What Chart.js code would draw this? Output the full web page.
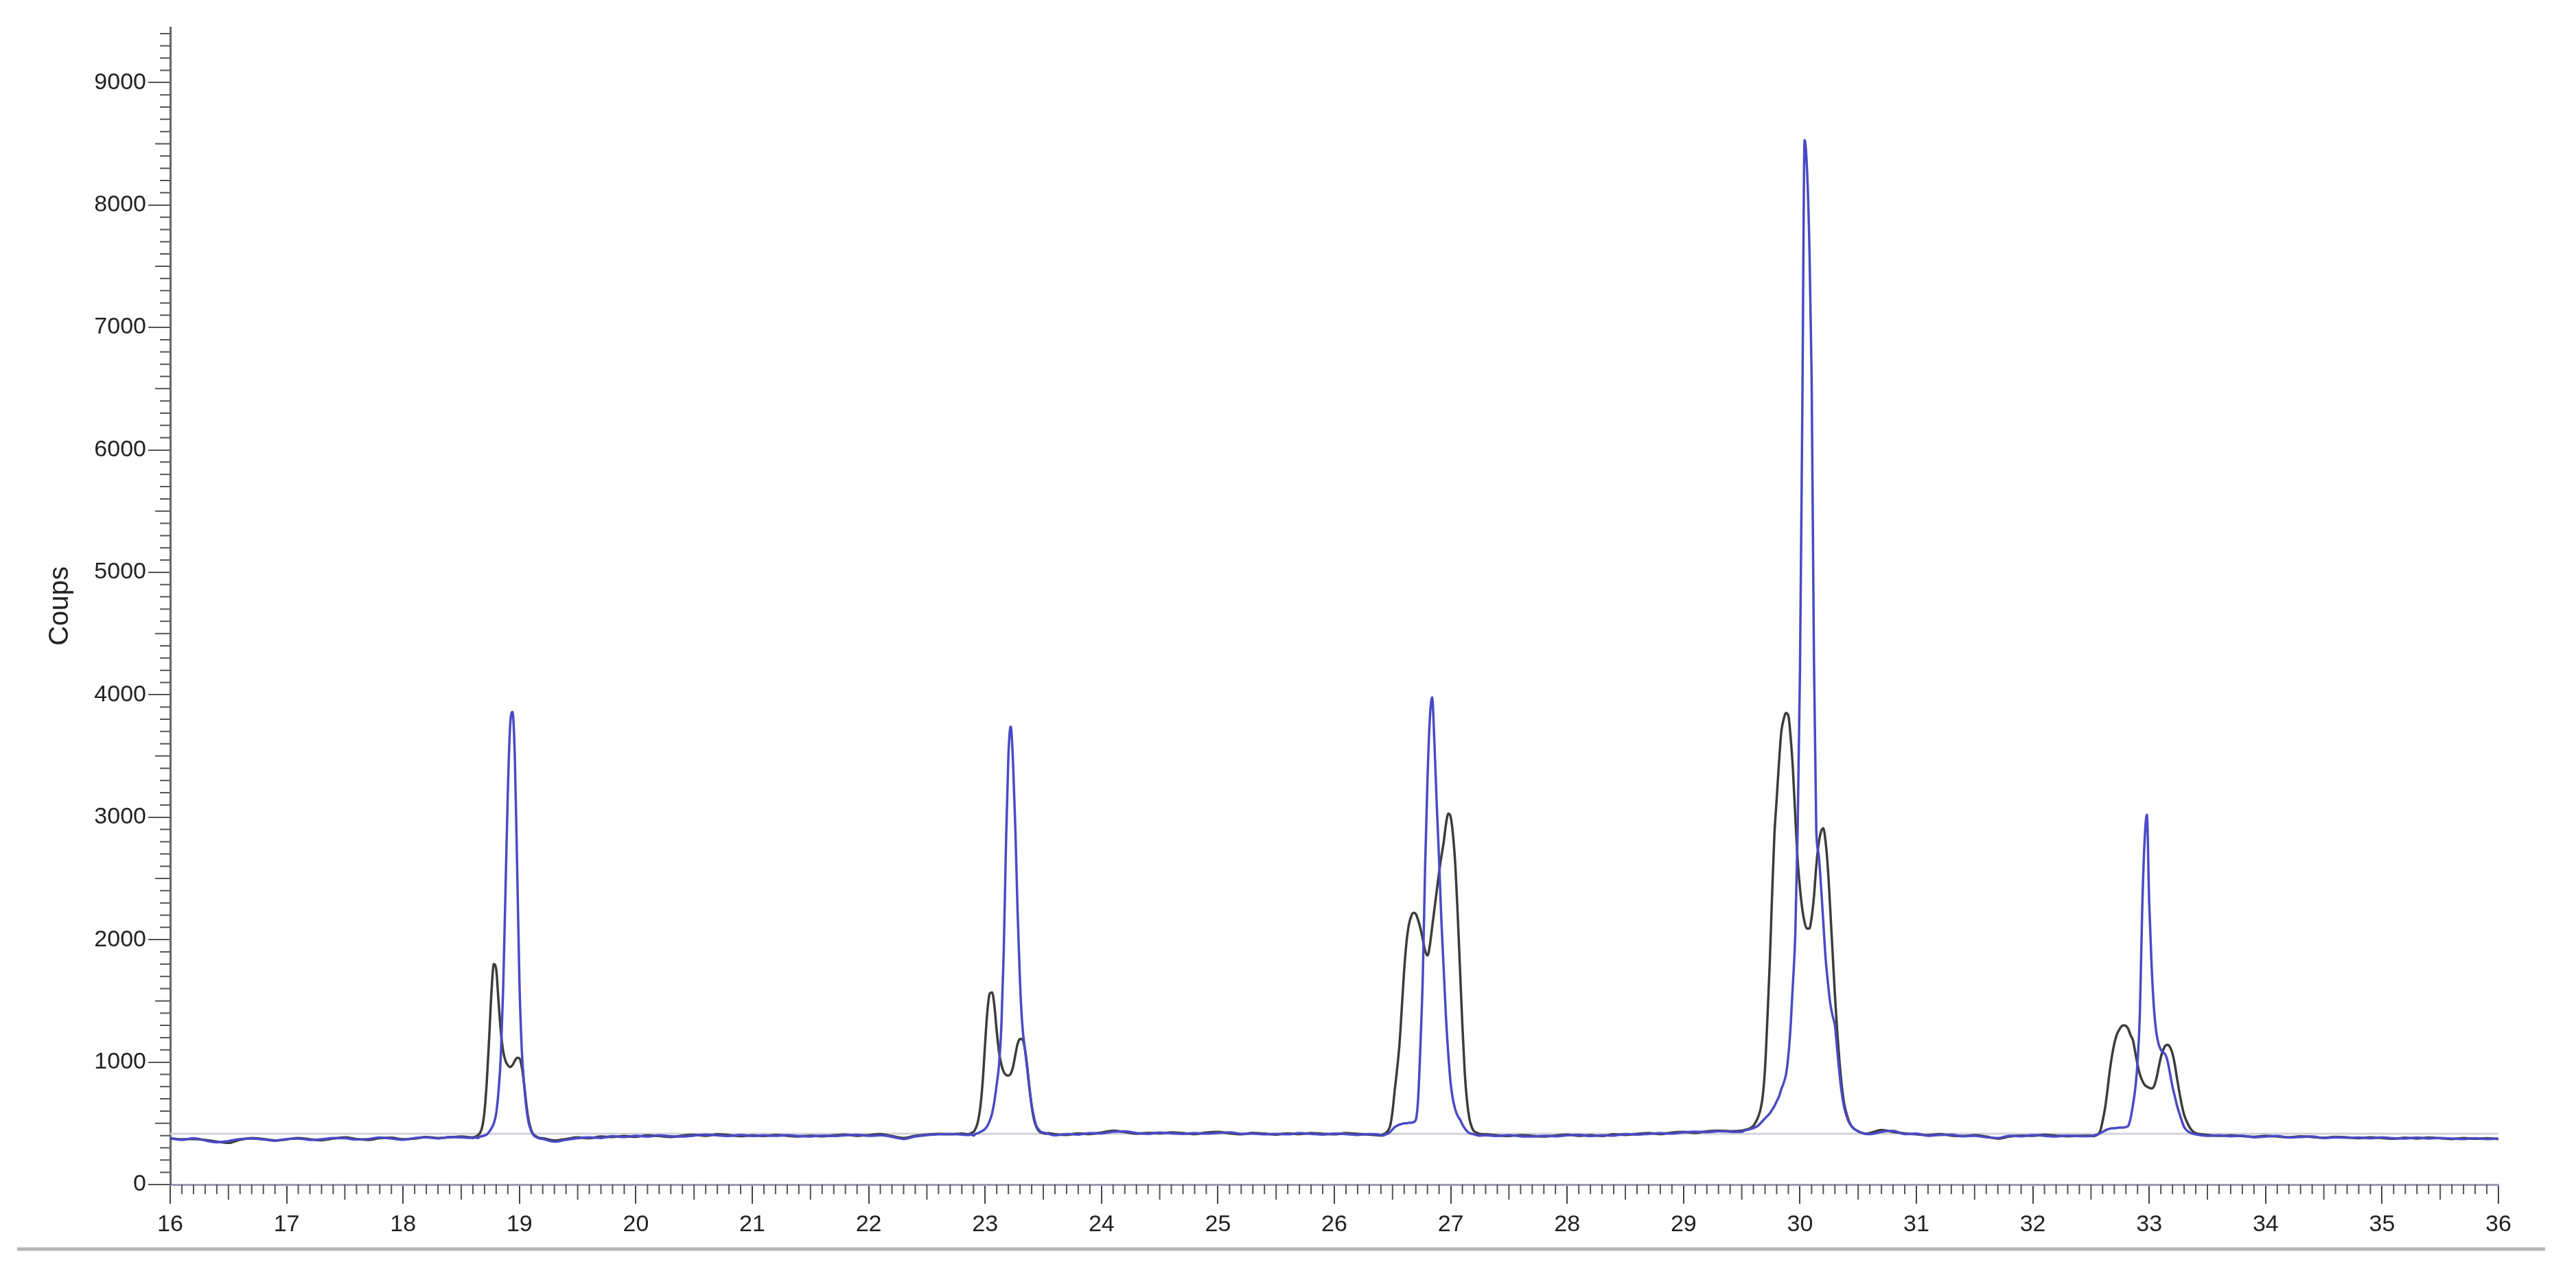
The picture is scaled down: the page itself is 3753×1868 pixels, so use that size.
<!DOCTYPE html>
<html lang="fr">
<head>
  <meta charset="UTF-8">
  <title>Diffractogramme - Coups</title>
  <style>
    body {
      margin: 0;
      background: #fff;
    }
    #chart {
      display: block;
    }
  </style>
  <script src="https://cdn.jsdelivr.net/npm/chart.js"></script>
</head>
<body>
  <canvas id="chart" width="3753" height="1868"></canvas>

  <script>
    // 2theta (degrees)
    var thetaA = [16.0,16.1,16.2,16.3,16.4,16.5,16.6,16.7,16.8,16.9,17.0,17.1,17.2,17.3,17.4,17.5,17.6,17.7,17.8,17.9,18.0,18.1,18.2,18.3,18.4,18.5];
    var thetaP1 = [18.60,18.62,18.64,18.66,18.68,18.70,18.72,18.74,18.76,18.78,18.80,18.82,18.84,18.86,18.88,18.90,18.92,18.94,18.96,18.98,19.00,19.02,19.04,19.06,19.08,19.10,19.12,19.14,19.16,19.18,19.20];
    var thetaB = [19.3,19.4,19.5,19.6,19.7,19.8,19.9,20.0,20.1,20.2,20.3,20.4,20.5,20.6,20.7,20.8,20.9,21.0,21.1,21.2,21.3,21.4,21.5,21.6,21.7,21.8,21.9,22.0,22.1,22.2,22.3,22.4,22.5,22.6,22.7,22.8];
    var thetaP2 = [22.86,22.88,22.90,22.92,22.94,22.96,22.98,23.00,23.02,23.04,23.06,23.08,23.10,23.12,23.14,23.16,23.18,23.20,23.22,23.24,23.26,23.28,23.30,23.32,23.34,23.36,23.38,23.40,23.42,23.44,23.46,23.48,23.50,23.52,23.54];
    var thetaC = [23.6,23.7,23.8,23.9,24.0,24.1,24.2,24.3,24.4,24.5,24.6,24.7,24.8,24.9,25.0,25.1,25.2,25.3,25.4,25.5,25.6,25.7,25.8,25.9,26.0,26.1,26.2,26.3];
    var thetaP3 = [26.40,26.42,26.44,26.46,26.48,26.50,26.52,26.54,26.56,26.58,26.60,26.62,26.64,26.66,26.68,26.70,26.72,26.74,26.76,26.78,26.80,26.82,26.84,26.86,26.88,26.90,26.92,26.94,26.96,26.98,27.00,27.02,27.04,27.06,27.08,27.10,27.12,27.14,27.16,27.18,27.20,27.22,27.24];
    var thetaD = [27.3,27.4,27.5,27.6,27.7,27.8,27.9,28.0,28.1,28.2,28.3,28.4,28.5,28.6,28.7,28.8,28.9,29.0,29.1,29.2,29.3,29.4];
    var thetaP4 = [29.50,29.52,29.54,29.56,29.58,29.60,29.62,29.64,29.66,29.68,29.70,29.72,29.74,29.76,29.78,29.80,29.82,29.84,29.86,29.88,29.90,29.92,29.94,29.96,29.98,30.00,30.02,30.04,30.06,30.08,30.10,30.12,30.14,30.16,30.18,30.20,30.22,30.24,30.26,30.28,30.30,30.32,30.34,30.36,30.38,30.40,30.42,30.44,30.46,30.48,30.50,30.52,30.54,30.56];
    var thetaE = [30.6,30.7,30.8,30.9,31.0,31.1,31.2,31.3,31.4,31.5,31.6,31.7,31.8,31.9,32.0,32.1,32.2,32.3,32.4];
    var thetaP5 = [32.50,32.52,32.54,32.56,32.58,32.60,32.62,32.64,32.66,32.68,32.70,32.72,32.74,32.76,32.78,32.80,32.82,32.84,32.86,32.88,32.90,32.92,32.94,32.96,32.98,33.00,33.02,33.04,33.06,33.08,33.10,33.12,33.14,33.16,33.18,33.20,33.22,33.24,33.26,33.28,33.30,33.32,33.34,33.36,33.38,33.40];
    var thetaF = [33.5,33.6,33.7,33.8,33.9,34.0,34.1,34.2,34.3,34.4,34.5,34.6,34.7,34.8,34.9,35.0,35.1,35.2,35.3,35.4,35.5,35.6,35.7,35.8,35.9,36.0];

    // black trace (counts)
    var blackA = [375,370,372,365,350,340,365,380,372,360,368,380,370,362,375,385,372,365,378,382,370,376,388,380,385,392];
    var blackP1 = [385,390,400,420,470,600,850,1200,1580,1800,1760,1500,1250,1090,1010,975,960,975,1010,1035,1030,960,820,650,520,450,410,395,385,380,378];
    var blackB = [360,372,385,378,392,388,396,390,402,396,388,400,406,398,410,404,395,402,396,405,398,392,400,394,402,408,398,404,412,396,380,398,408,414,410,416];
    var blackP2 = [410,420,430,460,520,640,850,1150,1420,1560,1570,1460,1250,1080,980,920,895,890,905,960,1060,1150,1190,1185,1120,980,800,640,530,470,440,425,420,415,420];
    var blackC = [410,405,418,412,425,440,428,415,422,418,426,420,412,424,430,418,410,422,416,408,418,412,420,415,410,420,414,408];
    var blackP3 = [400,410,420,440,480,600,780,950,1150,1450,1750,1980,2120,2190,2220,2210,2160,2090,2000,1910,1870,1950,2100,2250,2400,2550,2680,2800,2950,3030,3000,2850,2600,2200,1750,1300,920,680,540,470,435,425,415];
    var blackD = [410,402,396,404,398,392,400,408,398,404,396,410,405,414,420,412,425,430,422,434,440,436];
    var blackP4 = [440,445,450,455,465,480,510,550,610,720,950,1350,1800,2350,2850,3150,3450,3700,3800,3850,3830,3650,3380,3000,2650,2420,2250,2140,2090,2090,2180,2350,2600,2780,2880,2910,2800,2580,2250,1900,1550,1250,1000,800,660,580,520,480,460,445,435,425,420,415];
    var blackE = [420,445,430,418,410,404,412,400,396,404,392,375,392,400,398,406,400,394,398];
    var blackP5 = [400,395,400,410,440,520,620,760,920,1050,1150,1220,1260,1290,1300,1295,1270,1220,1180,1080,980,900,850,815,800,790,785,800,860,950,1040,1100,1135,1140,1120,1070,980,860,750,650,570,520,480,450,430,420];
    var blackF = [405,398,402,395,390,398,392,386,394,388,382,390,385,378,386,380,374,382,376,384,378,372,380,374,378,372];

    // blue trace (counts)
    var blueA = [380,365,378,360,345,355,372,375,368,358,372,376,365,370,380,378,368,372,384,376,366,380,385,376,388,385];
    var blueP1 = [380,385,380,390,395,400,410,430,460,500,580,760,1050,1600,2400,3200,3750,3860,3500,2600,1650,1100,820,620,500,440,405,390,380,375,372];
    var blueB = [350,365,378,385,380,395,388,398,392,402,394,392,400,408,402,396,405,396,402,398,404,396,392,400,396,402,406,398,402,390,372,392,404,410,414,408];
    var blueP2 = [405,410,400,415,420,430,440,455,480,520,580,680,820,980,1300,1900,2800,3500,3740,3450,2900,2200,1650,1300,1120,960,790,650,550,480,450,430,425,420,415];
    var blueC = [402,412,408,420,418,432,435,420,414,425,418,414,420,416,422,426,414,416,410,414,410,420,414,408,416,412,405,412];
    var blueP3 = [405,400,410,415,430,450,470,480,490,495,500,500,505,505,510,530,700,1150,1700,2600,3300,3800,3980,3600,3100,2650,2150,1750,1350,1050,820,690,610,560,530,490,460,435,420,415,410,405,400];
    var blueD = [402,396,404,394,392,398,394,402,406,396,402,400,412,408,414,420,416,426,432,428,436,432];
    var blueP4 = [430,440,445,450,455,460,470,480,500,520,540,560,580,610,640,680,720,780,830,900,1050,1300,1650,2050,2900,4200,6300,8530,8300,7700,6600,4300,2900,2700,2450,2150,1850,1650,1480,1380,1300,1100,900,740,630,560,510,480,460,445,435,425,420,415];
    var blueE = [412,430,438,412,416,398,405,408,394,398,386,380,398,394,404,398,392,400,395];
    var blueP5 = [395,400,405,410,420,430,440,450,455,460,460,462,465,465,465,470,480,540,650,780,1000,1400,2250,2800,3020,2300,1800,1450,1250,1150,1100,1080,1060,1000,900,800,720,640,580,520,470,445,430,420,415,410];
    var blueF = [398,402,394,398,386,392,396,384,388,392,380,386,382,384,378,385,378,376,384,376,380,376,372,378,372,375];

    // flat background line
    var fondTheta = [16, 36];
    var fondCounts = [415, 415];

    // axis tick labels
    var thetaTicks = [16,17,18,19,20,21,22,23,24,25,26,27,28,29,30,31,32,33,34,35,36];
    var countTicks = [0,1000,2000,3000,4000,5000,6000,7000,8000,9000];

    var thetaSegs = [thetaA, thetaP1, thetaB, thetaP2, thetaC, thetaP3, thetaD, thetaP4, thetaE, thetaP5, thetaF];
    var blackSegs = [blackA, blackP1, blackB, blackP2, blackC, blackP3, blackD, blackP4, blackE, blackP5, blackF];
    var blueSegs = [blueA, blueP1, blueB, blueP2, blueC, blueP3, blueD, blueP4, blueE, blueP5, blueF];

    function toPoints(xs, ys) {
      var pts = [];
      for (var i = 0; i < xs.length; i++) {
        if (ys[i] === undefined) console.warn('missing value at', xs[i]);
        pts.push({ x: xs[i], y: ys[i] });
      }
      return pts;
    }

    function joinSegs(values) {
      var pts = [];
      thetaSegs.forEach(function (xs, k) {
        pts = pts.concat(toPoints(xs, values[k]));
      });
      return pts;
    }

    var fontFamily = 'Arial, "Liberation Sans", sans-serif';

    // small ticks every 0.1 deg and every 100 counts, longer at the halves
    var minorTicks = {
      id: 'minorTicks',
      afterDraw: function (chart) {
        var ctx = chart.ctx;
        var x = chart.scales.x;
        var y = chart.scales.y;
        ctx.save();
        ctx.strokeStyle = '#555';
        ctx.lineWidth = 2;
        ctx.beginPath();
        for (var i = 161; i < 360; i++) {
          if (i % 10 === 0) continue;
          var px = x.getPixelForValue(i / 10);
          var len = i % 5 === 0 ? 22 : 14;
          ctx.moveTo(px, y.bottom);
          ctx.lineTo(px, y.bottom + len);
        }
        for (var j = 1; j < 95; j++) {
          if (j % 10 === 0) continue;
          var py = y.getPixelForValue(j * 100);
          var l = j % 5 === 0 ? 22 : 15;
          ctx.moveTo(x.left - l, py);
          ctx.lineTo(x.left, py);
        }
        ctx.stroke();
        ctx.restore();
      }
    };

    // grey rule under the tick labels
    var baseRule = {
      id: 'baseRule',
      afterDraw: function (chart) {
        var ctx = chart.ctx;
        ctx.save();
        ctx.strokeStyle = '#b4b4b4';
        ctx.lineWidth = 5;
        ctx.beginPath();
        ctx.moveTo(25, chart.height - 48);
        ctx.lineTo(chart.width - 45, chart.height - 48);
        ctx.stroke();
        ctx.restore();
      }
    };

    var ctx = document.getElementById('chart').getContext('2d');
    var chart = new Chart(ctx, {
      type: 'line',
      data: {
        datasets: [{
          label: 'bleu',
          data: joinSegs(blueSegs),
          borderColor: '#4a4ac6',
          borderWidth: 3.5,
          pointRadius: 0,
          fill: false,
          cubicInterpolationMode: 'monotone'
        }, {
          label: 'noir',
          data: joinSegs(blackSegs),
          borderColor: '#3c3c3c',
          borderWidth: 3.5,
          pointRadius: 0,
          fill: false,
          cubicInterpolationMode: 'monotone'
        }, {
          label: 'fond',
          data: toPoints(fondTheta, fondCounts),
          borderColor: '#d2d2da',
          borderWidth: 3,
          pointRadius: 0,
          fill: false
        }]
      },
      options: {
        responsive: false,
        animation: false,
        devicePixelRatio: 1,
        layout: {
          padding: { top: 40, right: 113, bottom: 0, left: 0 }
        },
        plugins: {
          legend: { display: false },
          tooltip: { enabled: false }
        },
        scales: {
          x: {
            type: 'linear',
            min: 16,
            max: 36,
            afterBuildTicks: function (s) {
              s.ticks = thetaTicks.map(function (v) { return { value: v }; });
            },
            ticks: {
              autoSkip: false,
              maxRotation: 0,
              padding: 10,
              color: '#222',
              font: { family: fontFamily, size: 34 },
              callback: function (v) { return String(v); }
            },
            grid: {
              drawOnChartArea: false,
              tickLength: 28,
              color: '#444',
              lineWidth: 2
            },
            border: { color: '#9a9ab4', width: 3 },
            afterFit: function (s) { s.height = 142; }
          },
          y: {
            min: 0,
            max: 9450,
            afterBuildTicks: function (s) {
              s.ticks = countTicks.map(function (v) { return { value: v }; });
            },
            ticks: {
              autoSkip: false,
              padding: 3,
              color: '#222',
              font: { family: fontFamily, size: 34 },
              callback: function (v) { return String(v); }
            },
            grid: {
              drawOnChartArea: false,
              tickLength: 32,
              color: '#555',
              lineWidth: 2
            },
            border: { color: '#666', width: 3 },
            title: {
              display: true,
              text: 'Coups',
              color: '#222',
              font: { family: fontFamily, size: 40 },
              padding: { top: 64, bottom: 0 }
            },
            afterFit: function (s) { s.width = 248; }
          }
        }
      },
      plugins: [minorTicks, baseRule]
    });
  </script>
</body>
</html>
